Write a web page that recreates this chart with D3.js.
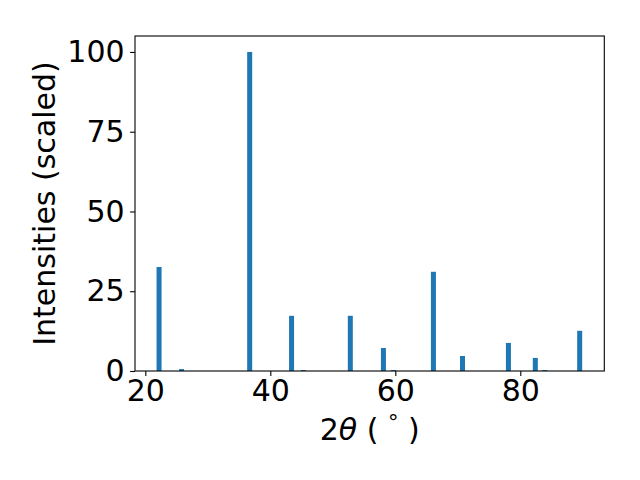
<!DOCTYPE html>
<html>
<head>
<meta charset="utf-8">
<script src="https://cdn.jsdelivr.net/npm/d3@7"></script>
<style>
html, body { margin: 0; padding: 0; background: #fff; }
svg { display: block; }
text { font-family: "DejaVu Sans", sans-serif; fill: #000; }
</style>
</head>
<body>
<script>
// Data
const twoTheta = [22.2, 25.8, 36.7, 43.4, 45.3, 52.8, 58.1, 59.7, 66.1, 70.75, 78.1, 82.4, 83.9, 89.5];
const intensity = [32.6, 0.6, 100, 17.3, 0.3, 17.3, 7.2, 0.3, 31.1, 4.7, 8.8, 4.1, 0.3, 12.6];
const xTicks = [20, 40, 60, 80];
const yTicks = [0, 25, 50, 75, 100];
const barWidth = 0.8;
const xDomain = [18.35, 93.44];
const yDomain = [0, 105];

(function () {
const W = 640, H = 480;
const mLeft = 135, mRight = 604.3, mTop = 36, mBottom = 371;
const fs = 30;

const svg = d3.select("body").append("svg").attr("width", W).attr("height", H);

const x = d3.scaleLinear().domain(xDomain).range([mLeft, mRight]);
const y = d3.scaleLinear().domain(yDomain).range([mBottom, mTop]);

// bars
svg.append("g").selectAll("rect")
  .data(twoTheta.map((t, i) => ({ t, v: intensity[i] })))
  .join("rect")
  .attr("x", d => x(d.t - barWidth / 2))
  .attr("width", d => x(d.t + barWidth / 2) - x(d.t - barWidth / 2))
  .attr("y", d => y(d.v))
  .attr("height", d => y(0) - y(d.v))
  .attr("fill", "#1f77b4");

// x axis
const xAxis = d3.axisBottom(x).tickValues(xTicks).tickSize(4.9).tickPadding(4).tickFormat(d3.format("d"));
const gx = svg.append("g").attr("transform", `translate(0,${mBottom})`).call(xAxis);
gx.select(".domain").remove();
gx.selectAll(".tick line").attr("stroke", "#000").attr("stroke-width", 1.1);
gx.selectAll(".tick text").style("font-size", fs + "px").style("font-family", "DejaVu Sans").attr("fill", "#000");

// y axis
const yAxis = d3.axisLeft(y).tickValues(yTicks).tickSize(4.9).tickPadding(5.5).tickFormat(d3.format("d"));
const gy = svg.append("g").attr("transform", `translate(${mLeft},0)`).call(yAxis);
gy.select(".domain").remove();
gy.selectAll(".tick line").attr("stroke", "#000").attr("stroke-width", 1.1);
gy.selectAll(".tick text").style("font-size", fs + "px").style("font-family", "DejaVu Sans").attr("fill", "#000");

// frame
svg.append("rect")
  .attr("x", mLeft).attr("y", mTop)
  .attr("width", mRight - mLeft).attr("height", mBottom - mTop)
  .attr("fill", "none").attr("stroke", "#000").attr("stroke-width", 1.1);

// x label
const xl = svg.append("text")
  .attr("x", (mLeft + mRight) / 2).attr("y", 440)
  .attr("text-anchor", "middle")
  .style("font-size", fs + "px");
xl.append("tspan").text("2");
xl.append("tspan").style("font-style", "italic").text("θ");
xl.append("tspan").text(" ( ");
xl.append("tspan").attr("dy", -10).style("font-size", (fs * 0.7) + "px").text("°");
xl.append("tspan").attr("dy", 10).text(" )");

// y label
svg.append("text")
  .attr("transform", `translate(54.5,${(mTop + mBottom) / 2}) rotate(-90)`)
  .attr("text-anchor", "middle")
  .style("font-size", fs + "px")
  .text("Intensities (scaled)");
})();
</script>
</body>
</html>
